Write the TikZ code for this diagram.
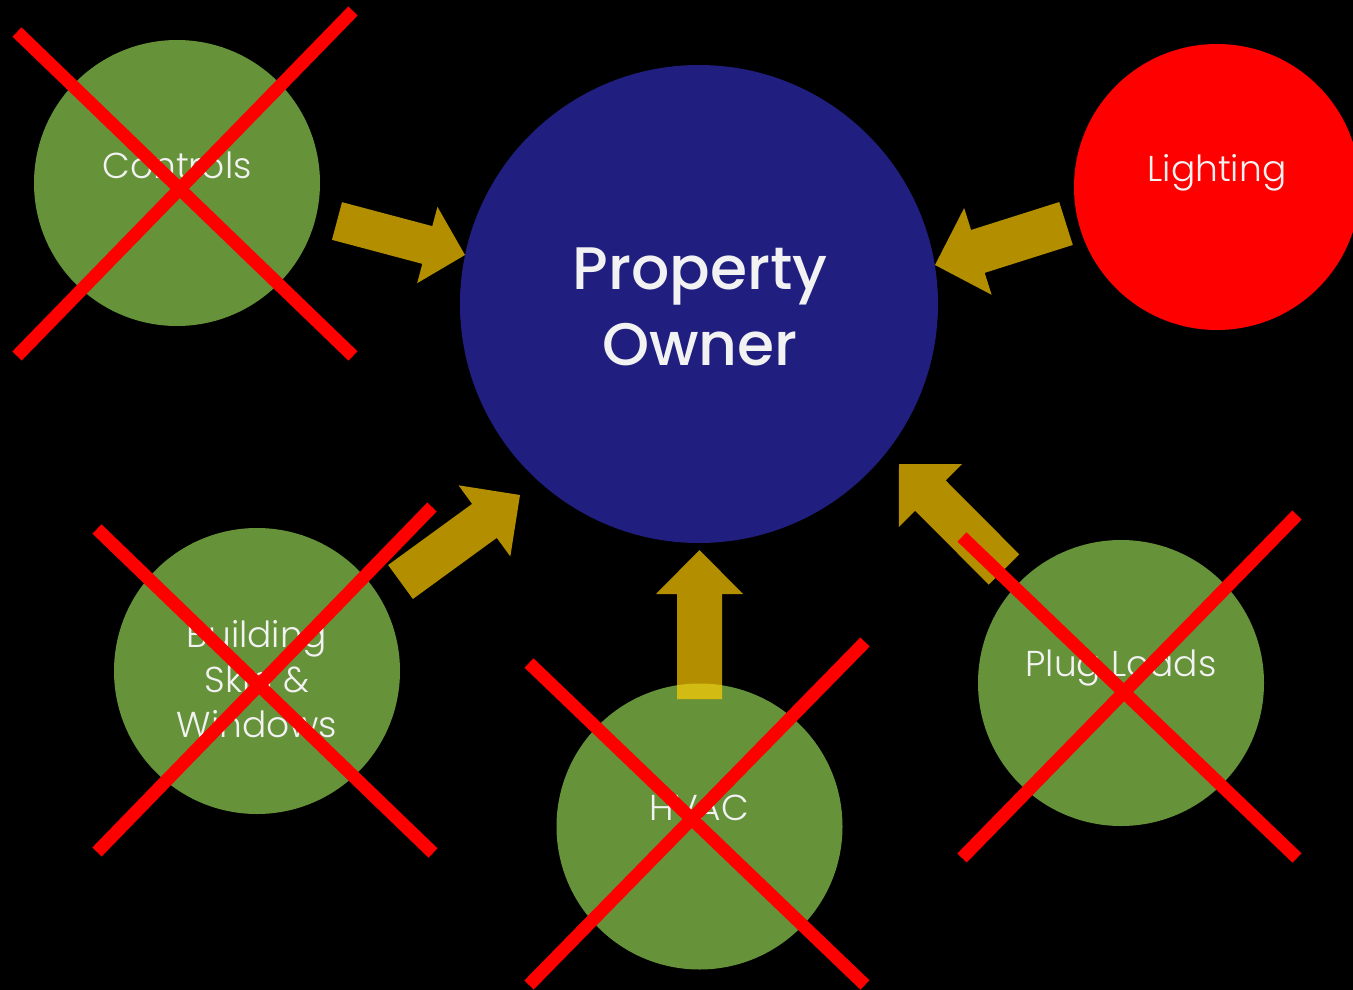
\documentclass[tikz,border=0pt]{standalone}
\usepackage{fontspec}
\IfFontExistsTF{Poppins Light}{\setmainfont{Poppins Light}}{\setmainfont{Poppins}}
\IfFontExistsTF{Poppins Medium}{\newfontfamily\pofont{Poppins Medium}}{\newfontfamily\pofont{Poppins}}
\usetikzlibrary{calc}
\definecolor{leaf}{HTML}{66923A}
\definecolor{navy}{HTML}{201F80}
\definecolor{gold}{HTML}{B38F00}
\definecolor{goldlit}{HTML}{D2BC14}
\definecolor{txt}{HTML}{F2F2F2}
\definecolor{xred}{HTML}{FF0000}
\newcommand\blockarr[6]{%
  \coordinate (hb) at ($(#2)!#5!(#1)$);
  \fill[#6] ($(#1)!#3!90:(#2)$) -- ($(hb)!#3!90:(#2)$) -- ($(hb)!#4!90:(#2)$) -- (#2)
     -- ($(hb)!#4!-90:(#2)$) -- ($(hb)!#3!-90:(#2)$) -- ($(#1)!#3!-90:(#2)$) -- cycle;}
\begin{document}
\begin{tikzpicture}[x=1pt,y=-1pt,
  circ/.style={circle, inner sep=0pt, minimum size=286pt, fill=leaf},
  lbl/.style={text=txt, inner sep=0pt, anchor=base, font=\fontsize{36}{40}\selectfont},
  polbl/.style={text=txt, inner sep=0pt, anchor=base, font=\pofont\fontsize{60}{72}\selectfont},
  xline/.style={xred, line width=13pt}]
\fill[black] (0,0) rectangle (1353,990);
\useasboundingbox (0,0) rectangle (1353,990);
\clip (0,0) rectangle (1353,990);
% circles
\node[circ] (controls) at (177,183) {};
\node[circ, fill=navy, minimum size=478pt] (owner) at (699,304) {};
\node[circ, fill=xred] (lighting) at (1217,187) {};
\node[circ] (building) at (257,671) {};
\node[circ] (hvac) at (699.5,826.5) {};
\node[circ] (plug) at (1121,683) {};
% texts
\node[lbl] (tcontrols) at (177,178) {Controls};
\node[lbl] (tlighting) at (1217,181) {Lighting};
\node[lbl] (tb1) at (257,647) {Building};
\node[lbl] (tb2) at (257,692) {Skin \&};
\node[lbl] (tb3) at (257,737) {Windows};
\node[lbl] (thvac) at (699.5,820) {HVAC};
\node[lbl] (tplug) at (1121,676) {Plug Loads};
\node[polbl] (po1) at (700,289) {Property};
\node[polbl] (po2) at (700,365) {Owner};
% arrow coordinates
\coordinate (a1t) at (337,221);   \coordinate (a1h) at (465,255);
\coordinate (a2t) at (1066,223.5);\coordinate (a2h) at (935,265);
\coordinate (a3t) at (400.5,582); \coordinate (a3h) at (520,495);
\coordinate (a4t) at (699.5,699); \coordinate (a4h) at (699.5,550);
\coordinate (a5t) at (1004,569.5);\coordinate (a5h) at (899,464);
\blockarr{a1t}{a1h}{19.5pt}{39.5pt}{39pt}{gold}
\blockarr{a2t}{a2h}{22.5pt}{45.5pt}{45pt}{gold}
\blockarr{a3t}{a3h}{21pt}{44pt}{44pt}{gold}
\blockarr{a4t}{a4h}{22.5pt}{43.5pt}{44pt}{gold}
\blockarr{a5t}{a5h}{21.5pt}{44.5pt}{44.5pt}{gold}
\begin{scope}
  \clip (hvac.center) circle (143pt);
  \blockarr{a4t}{a4h}{22.5pt}{43.5pt}{44pt}{goldlit}
\end{scope}
% red crosses
\coordinate (x1a) at (17,32);   \coordinate (x1b) at (353,356);
\coordinate (x1c) at (353,11);  \coordinate (x1d) at (17,356);
\coordinate (x2a) at (97,529);  \coordinate (x2b) at (433,853);
\coordinate (x2c) at (432,507); \coordinate (x2d) at (97,852);
\coordinate (x3a) at (529,663); \coordinate (x3b) at (865,985);
\coordinate (x3c) at (865,642); \coordinate (x3d) at (529,985);
\coordinate (x4a) at (962,537); \coordinate (x4b) at (1297,858);
\coordinate (x4c) at (1297,515);\coordinate (x4d) at (962,858);
\draw[xline] (x1a) -- (x1b); \draw[xline] (x1c) -- (x1d);
\draw[xline] (x2a) -- (x2b); \draw[xline] (x2c) -- (x2d);
\draw[xline] (x3a) -- (x3b); \draw[xline] (x3c) -- (x3d);
\draw[xline] (x4a) -- (x4b); \draw[xline] (x4c) -- (x4d);
\end{tikzpicture}
\end{document}
